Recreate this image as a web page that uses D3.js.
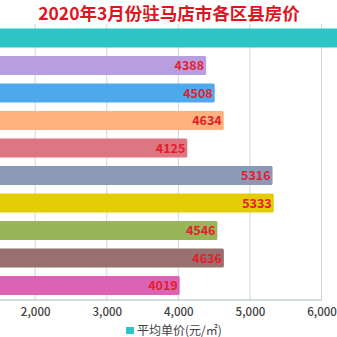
<!DOCTYPE html>
<html><head><meta charset="utf-8">
<script src="https://cdn.jsdelivr.net/npm/d3@7/dist/d3.min.js"></script>
<style>html,body{margin:0;padding:0;background:#fff;overflow:hidden}</style>
</head><body>
<script>
const title = "2020年3月份驻马店市各区县房价";
const categories = ["驿城区","西平县","上蔡县","平舆县","正阳县","确山县","泌阳县","汝南县","遂平县","新蔡县"];
const values = [6900,4388,4508,4634,4125,5316,5333,4546,4636,4019];
const colors = ["#2ec4c6","#b79fdf","#4ea9ec","#ffb27d","#dd7680","#8a9ab6","#e4cc06","#98b55a","#97706f","#de62b4"];
const tickValues = [2000,3000,4000,5000,6000];
const legendLabel = "平均单价(元/㎡)";

const W = 337, H = 337;
const svg = d3.select("body").append("svg").attr("width", W).attr("height", H);
const font = "'Noto Sans CJK SC','Noto Sans',sans-serif";

const x = d3.scaleLinear().domain([0, 6000]).range([-108, 321.5]);
const y = d3.scaleBand().domain(categories).range([24.25, 299.25]).paddingInner(0.31).paddingOuter(0.155);

// gridlines
svg.append("g").selectAll("line").data(tickValues).join("line")
  .attr("x1", d => x(d)).attr("x2", d => x(d))
  .attr("y1", 24).attr("y2", 299.5)
  .attr("stroke", "#cdd5dc").attr("stroke-width", 1);

// bars
svg.append("g").selectAll("rect").data(values).join("rect")
  .attr("x", x(0)).attr("y", (d, i) => y(categories[i]))
  .attr("width", d => x(d) - x(0)).attr("height", y.bandwidth())
  .attr("rx", 1.5)
  .attr("fill", (d, i) => colors[i]);

// value labels (those whose bar end lies within the view)
svg.append("g").selectAll("text").data(values.map((v, i) => ({v, i})).filter(d => x(d.v) <= W)).join("text")
  .attr("x", d => x(d.v) - 2).attr("y", d => y(categories[d.i]) + y.bandwidth() / 2)
  .attr("dy", "0.36em").attr("text-anchor", "end")
  .attr("font-family", font).attr("font-size", 12.5).attr("font-weight", 600)
  .attr("fill", "#e3202c")
  .text(d => d.v);

// x axis
const ax = svg.append("g").attr("transform", "translate(0,299.5)")
  .call(d3.axisBottom(x).tickValues(tickValues).tickSize(0).tickPadding(8).tickFormat(d3.format(",")));
ax.select(".domain").attr("stroke", "#a9b9bb");
ax.selectAll("text").attr("font-family", font).attr("font-size", 11.5).attr("font-weight", 500).attr("fill", "#404040");

// title
svg.append("text").attr("x", 169).attr("y", 20).attr("text-anchor", "middle")
  .attr("font-family", font).attr("font-size", 17.5).attr("font-weight", 700)
  .attr("fill", "#e0141e").text(title);

// legend
svg.append("rect").attr("x", 126).attr("y", 327).attr("width", 8).attr("height", 7).attr("fill", colors[0]);
svg.append("text").attr("x", 137).attr("y", 330.5).attr("dy", "0.36em")
  .attr("font-family", font).attr("font-size", 12).attr("fill", "#404040").text(legendLabel);
</script>
</body></html>
